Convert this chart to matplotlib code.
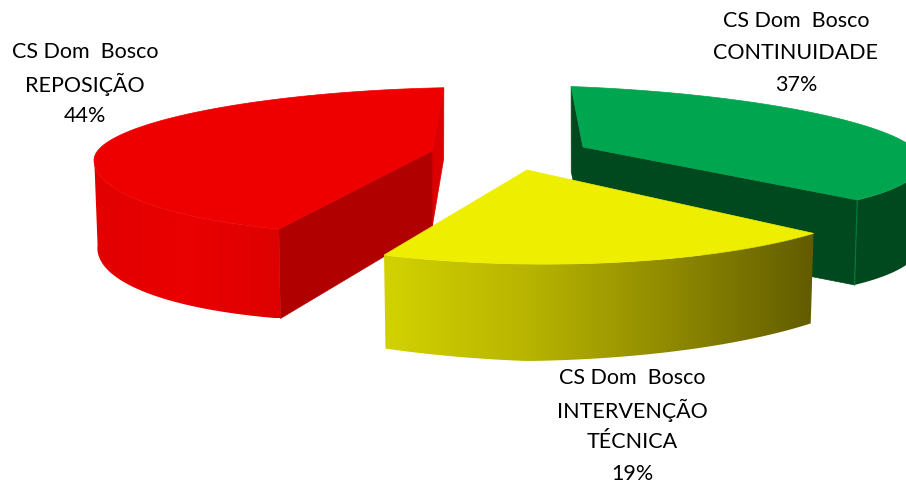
import numpy as np
import matplotlib
matplotlib.use("Agg")
import matplotlib.pyplot as plt
from matplotlib.colors import LinearSegmentedColormap
from matplotlib.patches import Polygon, Rectangle

# dados do grafico
categorias = ["REPOSIÇÃO", "CONTINUIDADE", "INTERVENÇÃO\nTÉCNICA"]
unidade = "CS Dom  Bosco"
valores = [44, 37, 19]

# geometria de cada fatia em pixels (a pizza 3D original esta bem distorcida)
centros = [(432, 151), (583, 147), (527, 170)]
raio_x = [338, 339, 372]
raio_y_cima = [63, 60, 95]
raio_y_baixo = [83, 70, 94]
inclinacao = [-0.027, 0.043, 0.012]
inicio = [88, -36, 247.4]
escala_angulo = [0.979, 0.961, 1.067]
altura = [77, 85, 97]
altura_y = [0.10, 0.0, 0.0]
altura_borda = [10, 0, -9]
frente = [(178, 360), (-90, 0), (180, 360)]

cor_topo = ["#EE0000", "#00A54F", "#EEEE00"]
cor_corte = ["#B00000", "#00491F", "#666000"]
cor_lado = [
    ["#E20000", "#EA0000", "#DE0000"],
    ["#00491F", "#00491F"],
    ["#D2D200", "#B8B400", "#8F8A00", "#625C00"],
]

# posicao dos rotulos: centro em x e y da primeira linha
pos_rotulos = [(85, 52), (796, 21), (632, 378)]
entre_linhas = 32


def topo(i, t):
    t = np.radians(t)
    dx = raio_x[i] * np.cos(t)
    s = np.sin(t)
    b = np.where(s > 0, raio_y_cima[i], raio_y_baixo[i])
    return centros[i][0] + dx, centros[i][1] + inclinacao[i] * dx - b * s


def base(i, t):
    x, y = topo(i, t)
    cx, cy = centros[i]
    h = altura[i] + altura_y[i] * (y - cy) + altura_borda[i] * np.abs(x - cx) / raio_x[i]
    return cx + (x - cx) * 0.99, y + h


def base_centro(i):
    return centros[i][0], centros[i][1] + altura[i]


fig = plt.figure(figsize=(9.06, 4.87), dpi=100)
ax = fig.add_axes([0, 0, 1, 1])
ax.axis("off")

z = 1
for i in range(3):
    t0 = inicio[i]
    t1 = t0 + valores[i] * 3.6 * escala_angulo[i]
    # faces de corte: fatia vermelha tem a lasca clara atras, verde e toda escura
    x0, y0 = topo(i, t0)
    x1, y1 = topo(i, t1)
    bx0, by0 = base(i, t0)
    bx1, by1 = base(i, t1)
    if i != 2:
        cor_a = "#DC0000" if i == 0 else cor_corte[i]
        ax.add_patch(Polygon([centros[i], (x0, y0), (bx0, by0), base_centro(i)], fc=cor_a, ec=cor_a, lw=0.5, zorder=z))
        ax.add_patch(Polygon([centros[i], (x1, y1), (bx1, by1), base_centro(i)], fc=cor_corte[i], ec=cor_corte[i], lw=0.5, zorder=z + 1))
    # lateral externa com degrade
    t_lado = np.linspace(max(t0, frente[i][0]), min(t1, frente[i][1]), 80)
    xt, yt = topo(i, t_lado)
    xb, yb = base(i, t_lado)
    pts = np.vstack([np.column_stack([xt, yt]), np.column_stack([xb, yb])[::-1]])
    mapa = LinearSegmentedColormap.from_list("lado%d" % i, cor_lado[i])
    img = ax.imshow(np.linspace(0, 1, 256)[None, :], cmap=mapa, aspect="auto", zorder=z + 2,
                    extent=(pts[:, 0].min(), pts[:, 0].max(), pts[:, 1].max(), pts[:, 1].min()))
    img.set_clip_path(Polygon(pts, transform=ax.transData))
    # topo da fatia
    t_arco = np.linspace(t0, t1, 160)
    xa, ya = topo(i, t_arco)
    ax.add_patch(Polygon(np.vstack([[centros[i]], np.column_stack([xa, ya])]), fc=cor_topo[i], ec=cor_topo[i], lw=0.5, zorder=z + 3))
    z += 4

# aresta clara entre as faces escuras da fatia verde
xv, yv = topo(1, inicio[1])
bxv, byv = base(1, inicio[1])
ax.plot([xv, bxv], [yv, byv], color="#007A3A", lw=0.8, zorder=7)

ax.set_xlim(0, 906)
ax.set_ylim(487, 0)

for i in range(3):
    linhas = [unidade] + categorias[i].split("\n") + ["%d%%" % valores[i]]
    x, y = pos_rotulos[i]
    for n, linha in enumerate(linhas):
        t = ax.text(x, y + n * entre_linhas, linha, ha="center", va="center", fontsize=15.5,
                    family="Lato", color="black", zorder=50)
        # o rotulo da esquerda aparece cortado na origem
        if i == 0:
            t.set_clip_path(Rectangle((11, 0), 300, 200, transform=ax.transData))

fig.savefig("out.png", dpi=100)
